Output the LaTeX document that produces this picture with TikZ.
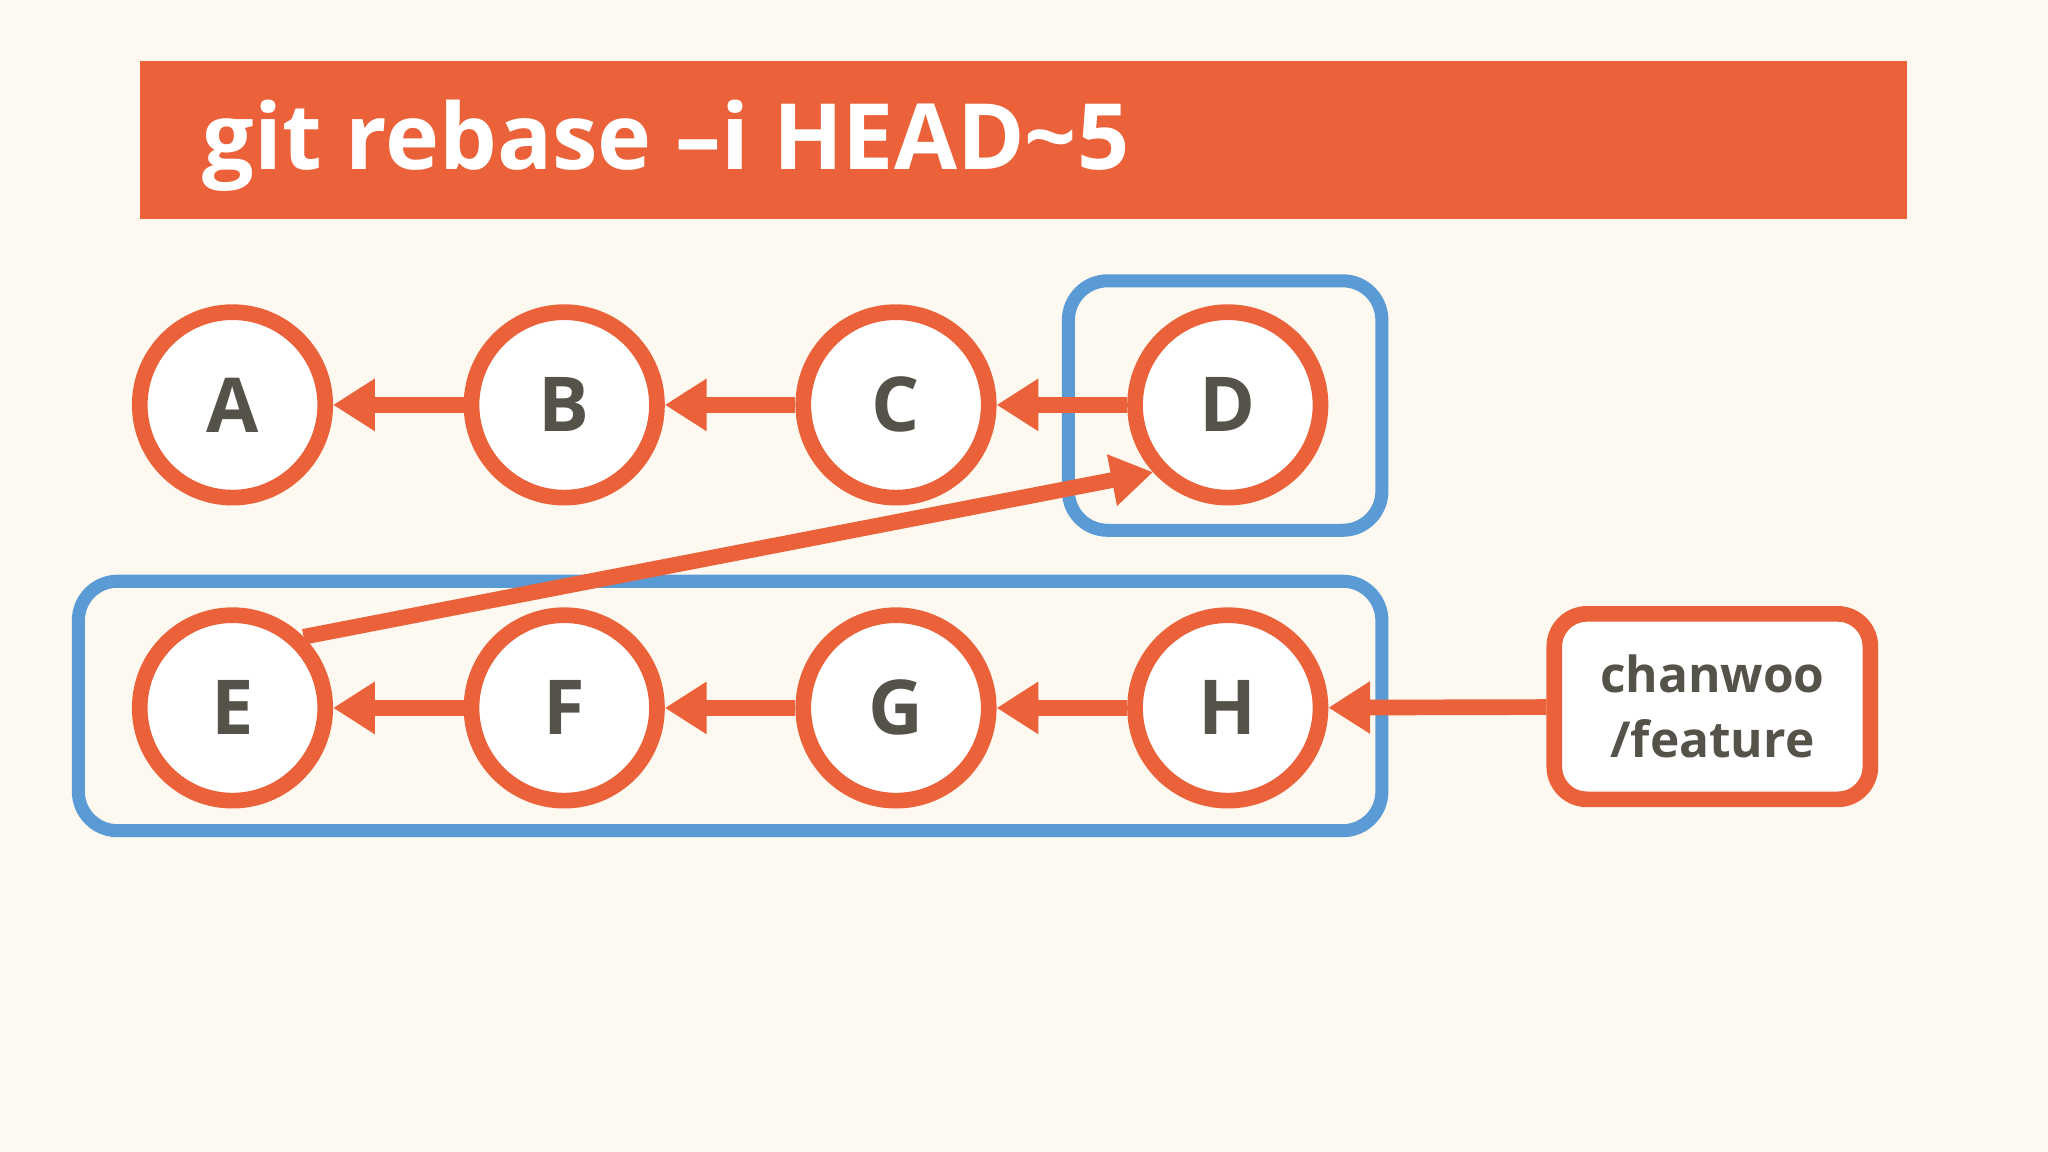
\documentclass[tikz,border=0pt]{standalone}
\usepackage{fontspec}
\setmainfont{Open Sans}
\usetikzlibrary{arrows.meta}
\definecolor{bg}{HTML}{FDF9F0}
\definecolor{org}{HTML}{EB6139}
\definecolor{blu}{HTML}{5B9BD5}
\definecolor{txt}{HTML}{55524A}
\tikzset{
 commit/.style={circle,draw=org,line width=12pt,fill=white,minimum size=142pt,inner sep=0pt,font=\fontsize{58}{60}\selectfont\bfseries,text=txt},
 link/.style={org,line width=12pt,-{Triangle[length=32pt,width=38pt]}},
 grp/.style={blu,line width=10pt,rounded corners=30pt},
}
\begin{document}
\begin{tikzpicture}[x=1pt,y=-1pt]
\fill[bg] (0,0) rectangle (1568,882);
\useasboundingbox (0,0) rectangle (1568,882);
\fill[org] (107,47) rectangle (1460,168);
\node[anchor=base west,text=white,font=\fontsize{70}{74}\selectfont\bfseries,inner sep=0pt] (title) at (155,130) {git rebase –i HEAD\textasciitilde5};
\foreach \n/\x/\y in {A/178/310,B/432/310,C/686/310,D/940/310,E/178/542,F/432/542,G/686/542,H/940/542}
  \node[commit] (\n) at (\x,\y) {\n};
\draw[grp] (818,215) rectangle (1058,406);
\draw[grp] (60,445) rectangle (1058,636);
\draw[link] (B) -- (A);
\draw[link] (C) -- (B);
\draw[link] (D) -- (C);
\draw[link] (F) -- (E);
\draw[link] (G) -- (F);
\draw[link] (H) -- (G);
\draw[link] (E.45) -- (D.222);
\node[draw=org,line width=12pt,rounded corners=25pt,fill=white,minimum width=242pt,minimum height=142pt,align=center,text=txt,font=\fontsize{38}{50}\selectfont\bfseries] (br) at (1311,541) {chanwoo\\/feature};
\draw[link] (br) -- (H);
\end{tikzpicture}
\end{document}
